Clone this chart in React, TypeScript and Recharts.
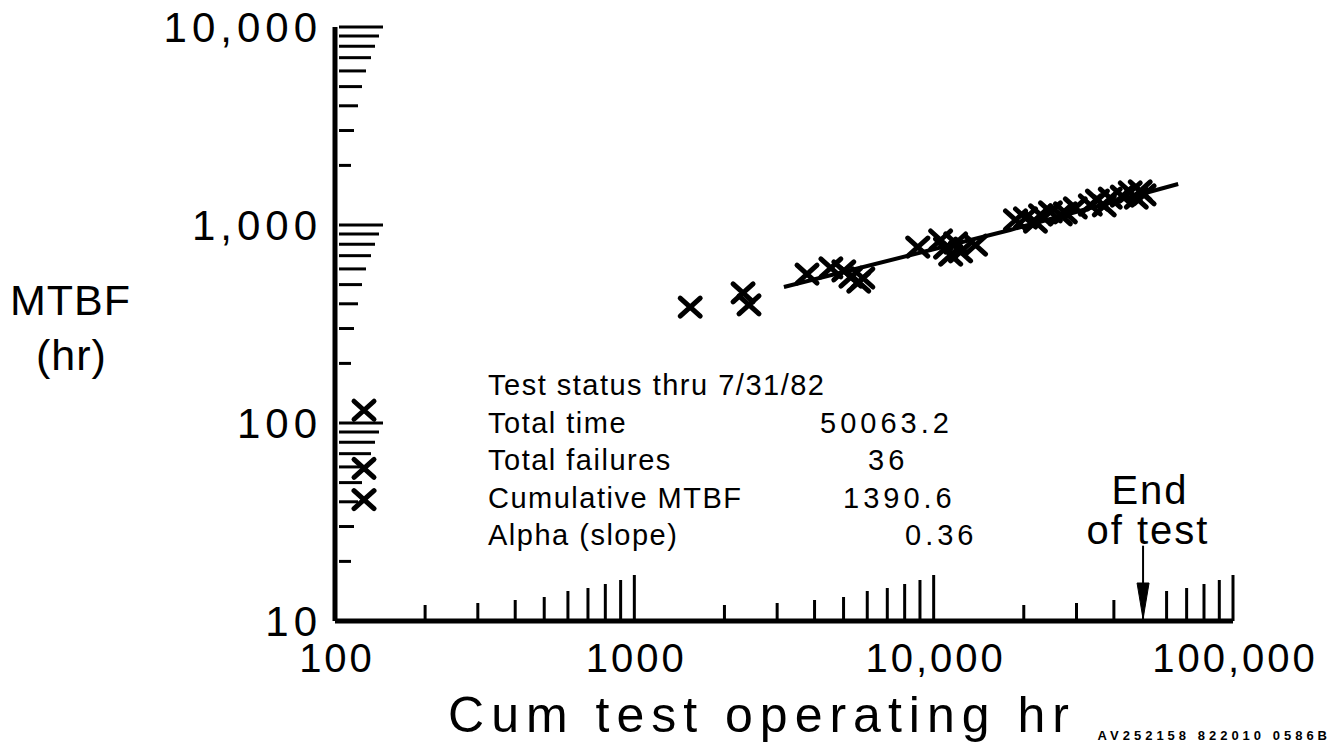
import React from 'react';
import { ScatterChart, Scatter, XAxis, YAxis, ReferenceLine, ReferenceDot } from 'recharts';

const FONT = '"Liberation Sans", Arial, Helvetica, sans-serif';

// failures: cumulative test hours vs. MTBF at that point
const earlyPoints = [
  { x: 125, y: 116 },
  { x: 125, y: 59 },
  { x: 125, y: 41 },
];

const failurePoints = [
  { x: 1537, y: 385 },
  { x: 2308, y: 454 },
  { x: 2416, y: 395 },
  { x: 3775, y: 565 },
  { x: 4535, y: 607 },
  { x: 5010, y: 586 },
  { x: 5290, y: 546 },
  { x: 5620, y: 515 },
  { x: 5800, y: 540 },
  { x: 8850, y: 774 },
  { x: 10550, y: 840 },
  { x: 10960, y: 765 },
  { x: 11400, y: 705 },
  { x: 11840, y: 811 },
  { x: 12300, y: 731 },
  { x: 13800, y: 792 },
  { x: 18770, y: 1060 },
  { x: 20270, y: 1085 },
  { x: 21880, y: 1035 },
  { x: 22750, y: 1124 },
  { x: 24550, y: 1164 },
  { x: 26500, y: 1124 },
  { x: 27540, y: 1152 },
  { x: 29730, y: 1219 },
  { x: 33370, y: 1262 },
  { x: 35240, y: 1337 },
  { x: 37150, y: 1248 },
  { x: 38900, y: 1368 },
  { x: 42660, y: 1400 },
  { x: 45360, y: 1468 },
  { x: 47530, y: 1368 },
  { x: 48980, y: 1486 },
  { x: 50470, y: 1419 },
];

// Duane growth line
const fitLine = [
  { x: 3160, y: 486 },
  { x: 18000, y: 944 },
  { x: 65600, y: 1611 },
];

const endOfTest = 50063.2;

const xTicks = [100, 200, 300, 400, 500, 600, 700, 800, 900, 1000, 2000, 3000, 4000, 5000, 6000, 7000, 8000, 9000, 10000, 20000, 30000, 40000, 60000, 70000, 80000, 90000, 100000];
const yTicks = [10, 20, 30, 40, 50, 60, 70, 80, 90, 100, 200, 300, 400, 500, 600, 700, 800, 900, 1000, 2000, 3000, 4000, 5000, 6000, 7000, 8000, 9000, 10000];

const xLabels: Record<number, string> = { 100: '100', 1000: '1000', 10000: '10,000', 100000: '100,000' };
const yLabels: Record<number, string> = { 10: '10', 100: '100', 1000: '1,000', 10000: '10,000' };

const statusLabels = ['Test status thru 7/31/82', 'Total time', 'Total failures', 'Cumulative MTBF', 'Alpha (slope)'];
const statusValues = ['', '50063.2', '36', '1390.6', '0.36'];
const valueX = [0, 820, 868, 843, 905];

// tick length by leading digit (index 1 = decade)
const X_LEN = [0, 46, 16, 18, 21, 24, 30, 33, 37, 41];
const Y_LEN = [0, 46, 14, 17, 21, 25, 29, 34, 38, 42];

const digit = (v: number) => Math.round(v / Math.pow(10, Math.floor(Math.log10(v) + 1e-9)));

const XTick = (props: any) => {
  const { x, y, payload } = props;
  const v = payload.value;
  const len = X_LEN[digit(v)];
  return (
    <g>
      {v !== 100 && <line x1={x} x2={x} y1={y} y2={y - len} stroke="#000" strokeWidth={3} />}
      {xLabels[v] && (
        <text x={x + 2} y={y + 37} textAnchor="middle" dominantBaseline="central"
          fontFamily={FONT} fontSize={40} letterSpacing={3} fill="#000">
          {xLabels[v]}
        </text>
      )}
    </g>
  );
};

const YTick = (props: any) => {
  const { x, y, payload } = props;
  const v = payload.value;
  const len = Y_LEN[digit(v)];
  return (
    <g>
      {v !== 10 && <line x1={x + 4} x2={x + 2 + len} y1={y} y2={y} stroke="#000" strokeWidth={3} />}
      {yLabels[v] && (
        <text x={x - 13} y={y} textAnchor="end" dominantBaseline="central"
          fontFamily={FONT} fontSize={42} letterSpacing={5} fill="#000">
          {yLabels[v]}
        </text>
      )}
    </g>
  );
};

const XMark = (props: any) => {
  const { cx, cy } = props;
  const w = 10;
  const h = 9;
  return (
    <path d={`M${cx - w},${cy - h}L${cx + w},${cy + h}M${cx - w},${cy + h}L${cx + w},${cy - h}`}
      stroke="#000" strokeWidth={5} strokeLinecap="round" fill="none" />
  );
};

const ArrowHead = (props: any) => {
  const { cx, cy } = props;
  return <path d={`M${cx - 6},${cy - 38}L${cx + 6},${cy - 38}L${cx},${cy - 2}Z`} fill="#000" stroke="#000" strokeWidth={1} />;
};

const Empty = () => <g />;

export default function App() {
  return (
    <div style={{ position: 'absolute', left: 0, top: 0, width: 1333, height: 742, background: '#fff' }}>
      <ScatterChart width={1333} height={742} margin={{ top: 27, right: 100, bottom: 61, left: 275 }}>
        <XAxis type="number" dataKey="x" scale="log" domain={[100, 100000]} allowDataOverflow
          ticks={xTicks} interval={0} tick={<XTick />} tickSize={0} tickMargin={0} height={60}
          axisLine={{ stroke: '#000', strokeWidth: 5 }} tickLine={false} />
        <YAxis type="number" dataKey="y" scale="log" domain={[10, 10000]} allowDataOverflow
          ticks={yTicks} interval={0} tick={<YTick />} tickSize={0} tickMargin={0} width={60}
          axisLine={{ stroke: '#000', strokeWidth: 5 }} tickLine={false} />
        <ReferenceLine segment={[{ x: endOfTest, y: 10 }, { x: endOfTest, y: 24 }]} stroke="#000" strokeWidth={2} ifOverflow="visible" />
        <ReferenceDot x={endOfTest} y={10} shape={<ArrowHead />} ifOverflow="visible" />
        <Scatter data={fitLine} line={{ stroke: '#000', strokeWidth: 4 }} shape={<Empty />} isAnimationActive={false} />
        <Scatter data={earlyPoints} shape={<XMark />} isAnimationActive={false} />
        <Scatter data={failurePoints} shape={<XMark />} isAnimationActive={false} />
      </ScatterChart>
      <svg width={1333} height={742} style={{ position: 'absolute', left: 0, top: 0, pointerEvents: 'none' }}
        fontFamily={FONT} fill="#000">
        <text x={10} y={300} fontSize={43} letterSpacing={1} dominantBaseline="central">MTBF</text>
        <text x={36} y={355} fontSize={43} letterSpacing={1} dominantBaseline="central">(hr)</text>
        <text x={762} y={715} fontSize={50} letterSpacing={7} textAnchor="middle" dominantBaseline="central">Cum test operating hr</text>
        {statusLabels.map((s, i) => (
          <text key={s} x={488} y={385 + i * 37.5} fontSize={29} letterSpacing={1.5} dominantBaseline="central">{s}</text>
        ))}
        {statusValues.map((s, i) => (
          s ? <text key={i} x={valueX[i]} y={385 + i * 37.5} fontSize={29} letterSpacing={4} dominantBaseline="central">{s}</text> : null
        ))}
        <text x={1150} y={490} fontSize={40} letterSpacing={2} textAnchor="middle" dominantBaseline="central">End</text>
        <text x={1148} y={530} fontSize={40} letterSpacing={2} textAnchor="middle" dominantBaseline="central">of test</text>
        <text x={1331} y={735} fontSize={13} fontWeight="bold" letterSpacing={4} textAnchor="end" dominantBaseline="central">AV252158 822010 0586B</text>
      </svg>
    </div>
  );
}
